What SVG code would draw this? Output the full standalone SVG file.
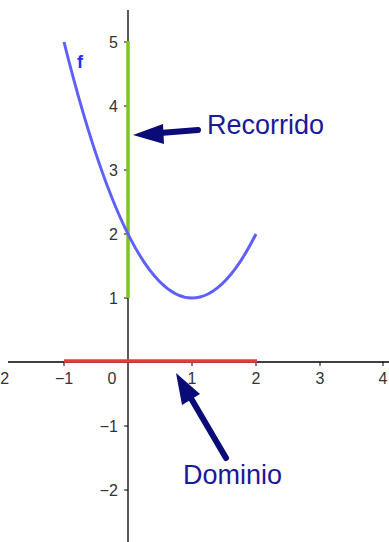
<svg xmlns="http://www.w3.org/2000/svg" width="389" height="542" viewBox="0 0 389 542">
<style>
.ax{stroke:#000;stroke-width:1.3;fill:none}
.tk{stroke:#000;stroke-width:1;fill:none}
.num{font-family:"Liberation Sans",Arial,sans-serif;font-size:16px;fill:#333}
.lbl{font-family:"Liberation Sans",Arial,sans-serif;font-size:27px;fill:#1a1a99}
.arr{stroke:#0a0a78;stroke-width:6;stroke-linecap:round;fill:none}
.head{fill:#0a0a78}
</style>
<rect width="389" height="542" fill="#fff"/>
<g id="axes">
<line class="ax" x1="8" y1="362" x2="389" y2="362"/>
<line class="ax" x1="128" y1="10" x2="128" y2="542"/>
<path class="tk" d="M64,362v4M192,362v4M256,362v4M320,362v4M383,362v4M124,42h4M124,106h4M124,170h4M124,234h4M124,298h4M124,426h4M124,490h4"/>
<g class="num" text-anchor="middle">
<text x="0" y="384">−2</text>
<text x="64" y="384">−1</text>
<text x="112" y="384">0</text>
<text x="192" y="384">1</text>
<text x="256" y="384">2</text>
<text x="320" y="384">3</text>
<text x="383" y="384">4</text>
</g>
<g class="num" text-anchor="end">
<text x="118" y="48">5</text>
<text x="118" y="112">4</text>
<text x="118" y="176">3</text>
<text x="118" y="240">2</text>
<text x="118" y="304">1</text>
<text x="118" y="432">−1</text>
<text x="118" y="496">−2</text>
</g>
</g>
<g id="domain">
<line x1="64" y1="361" x2="257" y2="361" stroke="#e8383d" stroke-width="3.5"/>
</g>
<g id="range">
<line x1="128" y1="41" x2="128" y2="298" stroke="#7dc61e" stroke-width="3.5"/>
</g>
<g id="f">
<path d="M64,42 Q160,426 256,234" fill="none" stroke="#5f5fff" stroke-width="3"/>
<text x="77" y="68" font-family="Liberation Sans,Arial,sans-serif" font-size="18" font-weight="bold" fill="#2a2aff">f</text>
</g>
<g id="connectors">
<line class="arr" x1="198" y1="130" x2="160" y2="133"/>
<polygon class="head" points="133,135 163,124 164,144"/>
<line class="arr" x1="226" y1="458" x2="192" y2="400"/>
<polygon class="head" points="176,373 200,394 182,405"/>
</g>
<g id="label-recorrido"><text class="lbl" x="207" y="134">Recorrido</text></g>
<g id="label-dominio"><text class="lbl" x="183" y="484">Dominio</text></g>
</svg>
